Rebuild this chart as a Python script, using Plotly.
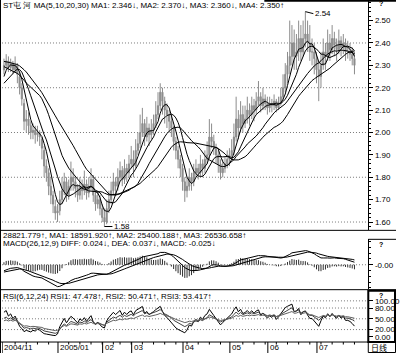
import plotly.graph_objects as go
import pandas as pd

# ---------------- data ----------------
# closes before the first visible bar (only used to warm up the indicators)
pre_closes = [2.52, 2.50, 2.53, 2.49, 2.51, 2.47, 2.50, 2.46, 2.48, 2.45,
              2.47, 2.44, 2.46, 2.43, 2.45,
              2.35, 2.38, 2.36, 2.39, 2.36, 2.34, 2.38, 2.35, 2.37, 2.36,
              2.40, 2.42, 2.41, 2.39, 2.38, 2.37, 2.35, 2.34, 2.33, 2.30,
              2.22, 2.20, 2.18, 2.17, 2.18, 2.18, 2.22, 2.26, 2.29]

opens = [2.28, 2.30, 2.32, 2.29, 2.31, 2.28, 2.30, 2.25, 2.20, 2.13,
         2.05, 2.06, 2.03, 2.00, 2.01, 1.99, 2.00, 1.97, 1.92, 1.85,
         1.82, 1.76, 1.72, 1.67, 1.64, 1.65, 1.70, 1.74, 1.78, 1.72,
         1.76, 1.80, 1.78, 1.75, 1.72, 1.76, 1.74, 1.77, 1.73, 1.76,
         1.79, 1.72, 1.68, 1.70, 1.66, 1.62, 1.60, 1.66, 1.70, 1.74,
         1.78, 1.76, 1.80, 1.83, 1.79, 1.84, 1.82, 1.86, 1.88, 1.85,
         1.92, 1.95, 2.00, 2.04, 1.98, 2.02, 1.99, 2.01, 2.04, 2.08,
         2.12, 2.18, 2.14, 2.10, 2.08, 2.05, 2.02, 1.96, 1.92, 1.88,
         1.84, 1.78, 1.74, 1.76, 1.80, 1.78, 1.82, 1.84, 1.82, 1.86,
         1.84, 1.88, 1.90, 1.98, 1.96, 1.93, 1.90, 1.86, 1.82, 1.84,
         1.86, 1.88, 1.90, 1.92, 1.98, 2.06, 2.02, 2.08, 2.04, 2.06,
         2.10, 2.08, 2.12, 2.10, 2.14, 2.16, 2.12, 2.15, 2.13, 2.11,
         2.13, 2.12, 2.14, 2.11, 2.13, 2.16, 2.20, 2.26, 2.30, 2.34,
         2.40, 2.34, 2.36, 2.42, 2.36, 2.42, 2.44, 2.40, 2.36, 2.36,
         2.33, 2.28, 2.25, 2.30, 2.36, 2.34, 2.40, 2.37, 2.42, 2.39,
         2.37, 2.41, 2.38, 2.40, 2.36, 2.36, 2.35, 2.33]
highs = [2.33, 2.35, 2.34, 2.33, 2.32, 2.34, 2.31, 2.27, 2.22, 2.15,
         2.10, 2.09, 2.05, 2.04, 2.03, 2.03, 2.01, 1.98, 1.94, 1.88,
         1.84, 1.80, 1.74, 1.70, 1.68, 1.74, 1.80, 1.82, 1.80, 1.79,
         1.87, 1.84, 1.80, 1.77, 1.80, 1.79, 1.83, 1.79, 1.80, 1.84,
         1.81, 1.74, 1.74, 1.72, 1.68, 1.66, 1.70, 1.74, 1.78, 1.82,
         1.80, 1.84, 1.87, 1.85, 1.88, 1.86, 1.90, 1.94, 1.92, 1.97,
         2.00, 2.08, 2.11, 2.06, 2.07, 2.04, 2.06, 2.08, 2.14, 2.18,
         2.22, 2.20, 2.16, 2.13, 2.10, 2.08, 2.03, 1.98, 1.94, 1.90,
         1.86, 1.80, 1.80, 1.84, 1.82, 1.86, 1.88, 1.86, 1.90, 1.88,
         1.92, 1.96, 2.06, 2.04, 1.99, 1.95, 1.92, 1.88, 1.88, 1.89,
         1.92, 1.93, 1.97, 2.04, 2.16, 2.10, 2.14, 2.12, 2.12, 2.16,
         2.13, 2.16, 2.15, 2.18, 2.23, 2.18, 2.20, 2.17, 2.16, 2.16,
         2.15, 2.17, 2.15, 2.16, 2.20, 2.26, 2.31, 2.36, 2.50, 2.48,
         2.46, 2.44, 2.50, 2.48, 2.50, 2.54, 2.50, 2.48, 2.42, 2.40,
         2.36, 2.32, 2.36, 2.42, 2.40, 2.46, 2.44, 2.48, 2.45, 2.42,
         2.46, 2.43, 2.44, 2.42, 2.41, 2.40, 2.38, 2.36]
lows = [2.26, 2.28, 2.27, 2.27, 2.26, 2.27, 2.22, 2.17, 2.12, 2.01,
        2.00, 1.99, 1.97, 1.97, 1.95, 1.96, 1.94, 1.88, 1.80, 1.78,
        1.72, 1.68, 1.64, 1.61, 1.60, 1.63, 1.68, 1.72, 1.69, 1.70,
        1.74, 1.74, 1.71, 1.69, 1.70, 1.70, 1.72, 1.70, 1.71, 1.74,
        1.69, 1.65, 1.66, 1.63, 1.60, 1.58, 1.59, 1.64, 1.68, 1.72,
        1.72, 1.74, 1.78, 1.76, 1.77, 1.78, 1.80, 1.84, 1.80, 1.84,
        1.90, 1.93, 1.98, 1.94, 1.96, 1.94, 1.97, 1.99, 2.02, 2.06,
        2.10, 2.08, 2.04, 2.02, 2.00, 1.98, 1.92, 1.88, 1.84, 1.80,
        1.74, 1.69, 1.71, 1.74, 1.74, 1.76, 1.80, 1.79, 1.80, 1.80,
        1.82, 1.86, 1.88, 1.93, 1.90, 1.86, 1.82, 1.79, 1.80, 1.82,
        1.84, 1.85, 1.88, 1.90, 1.96, 1.97, 2.00, 2.00, 2.02, 2.04,
        2.03, 2.06, 2.05, 2.08, 2.12, 2.09, 2.10, 2.10, 2.08, 2.09,
        2.09, 2.10, 2.09, 2.10, 2.12, 2.14, 2.18, 2.22, 2.26, 2.30,
        2.28, 2.28, 2.32, 2.32, 2.34, 2.38, 2.36, 2.32, 2.30, 2.26,
        2.22, 2.14, 2.20, 2.28, 2.28, 2.32, 2.32, 2.35, 2.34, 2.32,
        2.35, 2.34, 2.35, 2.32, 2.33, 2.32, 2.30, 2.26]
closes = [2.30, 2.32, 2.29, 2.31, 2.28, 2.30, 2.26, 2.20, 2.15, 2.05,
          2.06, 2.03, 2.00, 2.01, 1.99, 2.00, 1.98, 1.93, 1.85, 1.82,
          1.76, 1.72, 1.68, 1.64, 1.65, 1.70, 1.74, 1.78, 1.72, 1.76,
          1.80, 1.78, 1.75, 1.72, 1.76, 1.74, 1.77, 1.73, 1.76, 1.79,
          1.72, 1.68, 1.70, 1.66, 1.62, 1.60, 1.66, 1.70, 1.74, 1.78,
          1.76, 1.80, 1.83, 1.79, 1.84, 1.82, 1.86, 1.88, 1.85, 1.92,
          1.95, 2.00, 2.04, 1.98, 2.02, 1.99, 2.01, 2.04, 2.08, 2.12,
          2.18, 2.14, 2.10, 2.08, 2.05, 2.02, 1.96, 1.92, 1.88, 1.84,
          1.78, 1.74, 1.76, 1.80, 1.78, 1.82, 1.84, 1.82, 1.86, 1.84,
          1.88, 1.90, 1.98, 1.96, 1.93, 1.90, 1.86, 1.82, 1.84, 1.86,
          1.88, 1.90, 1.92, 1.98, 2.06, 2.02, 2.08, 2.04, 2.06, 2.10,
          2.08, 2.12, 2.10, 2.14, 2.16, 2.12, 2.15, 2.13, 2.11, 2.13,
          2.12, 2.14, 2.11, 2.13, 2.16, 2.20, 2.26, 2.30, 2.34, 2.40,
          2.34, 2.36, 2.42, 2.36, 2.42, 2.44, 2.40, 2.36, 2.36, 2.33,
          2.28, 2.25, 2.30, 2.36, 2.34, 2.40, 2.37, 2.42, 2.39, 2.37,
          2.41, 2.38, 2.40, 2.36, 2.36, 2.35, 2.33, 2.30]

holidays = ["2005-01-03", "2005-02-07", "2005-02-08", "2005-02-09", "2005-02-10",
            "2005-02-11", "2005-02-14", "2005-02-15", "2005-05-02", "2005-05-03",
            "2005-05-04", "2005-05-05", "2005-05-06"]
first_day, last_day = "2004-11-29", "2005-07-25"
month_labels = {"2004-11": "2004/11", "2005-01": "2005/01", "2005-02": "02", "2005-03": "03",
                "2005-04": "04", "2005-05": "05", "2005-06": "06", "2005-07": "07"}

ma_periods = [5, 10, 20, 30]
ma_colors = ["#000000", "#000000", "#000000", "#000000"]

UP, DN = "<b>↑</b>", "<b>↓</b>"
title_txt = f"ST屯 河 MA(5,10,20,30) MA1: 2.346{DN}, MA2: 2.370{DN}, MA3: 2.360{DN}, MA4: 2.350{UP}"
vol_txt = f"28821.779{UP}, MA1: 18591.920{UP}, MA2: 25400.188{UP}, MA3: 26536.658{UP}"
macd_txt = f"MACD(26,12,9) DIFF: 0.024{DN}, DEA: 0.037{DN}, MACD: -0.025{DN}"
rsi_txt = f"RSI(6,12,24) RSI1: 47.478{UP}, RSI2: 50.471{UP}, RSI3: 53.417{UP}"
hi_txt, lo_txt = "2.54", "1.58"

# ---------------- derived series ----------------
n = len(closes)
idx = list(range(n))
npre = len(pre_closes)
full = pd.Series(pre_closes + closes, dtype=float)
mas = [full.rolling(p, min_periods=1).mean().iloc[npre:].tolist() for p in ma_periods]
ema12 = full.ewm(span=12, adjust=False).mean()
ema26 = full.ewm(span=26, adjust=False).mean()
diff = ema12 - ema26
dea = diff.ewm(span=9, adjust=False).mean()
macd = 2 * (diff - dea)
diff_v, dea_v, macd_v = diff.iloc[npre:].tolist(), dea.iloc[npre:].tolist(), macd.iloc[npre:].tolist()
chg = full.diff().fillna(0)
rsis = []
for p in (6, 12, 24):
    up = chg.clip(lower=0).ewm(alpha=1 / p, adjust=False).mean()
    ab = chg.abs().ewm(alpha=1 / p, adjust=False).mean()
    rsis.append((up / ab * 100).fillna(50).iloc[npre:].tolist())

bd = pd.bdate_range(first_day, last_day)
dates = [d for d in bd if d.strftime("%Y-%m-%d") not in holidays]

# ---------------- geometry helpers ----------------
W, H = 400, 354
def py(p):
    return 1 - p / H
def px(p):
    return p / W

FONT = "Liberation Sans, Arial, sans-serif"
FS = 8
DOT = "1px,2px"
GRID = "#7a7a7a"
x_range = [-0.887, 163.19]

fig = go.Figure()

fig.add_trace(go.Candlestick(
    x=idx, open=opens, high=highs, low=lows, close=closes,
    increasing=dict(line=dict(color="#8c8c8c", width=1), fillcolor="#8c8c8c"),
    decreasing=dict(line=dict(color="#8c8c8c", width=1), fillcolor="#8c8c8c"),
    whiskerwidth=0, showlegend=False, hoverinfo="skip", xaxis="x", yaxis="y"))
for m, c in zip(mas, ma_colors):
    fig.add_trace(go.Scatter(x=idx, y=m, mode="lines", line=dict(color=c, width=1),
                             showlegend=False, hoverinfo="skip", xaxis="x", yaxis="y"))

hx, hy = [], []
for i, v in zip(idx, macd_v):
    hx += [i, i, None]
    hy += [0, v, None]
fig.add_trace(go.Scatter(x=hx, y=hy, mode="lines", line=dict(color="#303030", width=1),
                         showlegend=False, hoverinfo="skip", xaxis="x2", yaxis="y2"))
fig.add_trace(go.Scatter(x=idx, y=diff_v, mode="lines", line=dict(color="#000000", width=1),
                         showlegend=False, hoverinfo="skip", xaxis="x2", yaxis="y2"))
fig.add_trace(go.Scatter(x=idx, y=dea_v, mode="lines", line=dict(color="#000000", width=1),
                         showlegend=False, hoverinfo="skip", xaxis="x2", yaxis="y2"))

for r, c in zip(rsis, ["#000000", "#404040", "#606060"]):
    fig.add_trace(go.Scatter(x=idx, y=r, mode="lines", line=dict(color=c, width=1),
                             showlegend=False, hoverinfo="skip", xaxis="x3", yaxis="y3"))

xdom = [px(2), px(372)]
common_x = dict(domain=xdom, range=x_range, showticklabels=False, showgrid=False,
                zeroline=False, showline=False, ticks="", rangeslider=dict(visible=False),
                fixedrange=True)
tickfont = dict(size=FS, family=FONT, color="black")
common_y = dict(side="right", showline=True, linecolor="black", linewidth=1, ticks="outside",
                ticklen=4, tickcolor="black", tickfont=tickfont, showgrid=False, zeroline=False,
                fixedrange=True)

fig.update_layout(
    width=W, height=H, margin=dict(l=0, r=0, t=0, b=0),
    paper_bgcolor="white", plot_bgcolor="white", showlegend=False,
    xaxis=dict(**common_x, anchor="y"),
    xaxis2=dict(**common_x, anchor="y2", matches="x"),
    xaxis3=dict(**common_x, anchor="y3", matches="x"),
    yaxis=dict(**common_y, anchor="x", domain=[py(231), py(0)], range=[1.5628, 2.592],
               dtick=0.1, tick0=0, tickformat=".2f",
               minor=dict(ticks="outside", ticklen=2, dtick=0.02, tickcolor="black")),
    yaxis2=dict(**common_y, anchor="x2", domain=[py(290), py(240)], range=[-0.169, 0.1759],
                tickvals=[0], ticktext=["-0.00"],
                minor=dict(ticks="outside", ticklen=2, dtick=0.04, tickcolor="black")),
    yaxis3=dict(**common_y, anchor="x3", domain=[py(342), py(291)], range=[-11.9, 129.7],
                tickvals=[0, 20, 50, 80, 100], ticktext=["0.00", "20.00", "50.00", "80.00", "100.00"]),
)

shapes = []
def hline_paper(y, x0=0, x1=400, w=1, color="black"):
    shapes.append(dict(type="line", xref="paper", yref="paper", x0=px(x0), x1=px(x1),
                       y0=py(y), y1=py(y), line=dict(color=color, width=w)))
def vline_paper(x, y0, y1, w=1, color="black"):
    shapes.append(dict(type="line", xref="paper", yref="paper", x0=px(x), x1=px(x),
                       y0=py(y0), y1=py(y1), line=dict(color=color, width=w)))

for g in [1.6, 1.8, 2.0, 2.2, 2.4]:
    shapes.append(dict(type="line", xref="x", yref="y", x0=x_range[0], x1=x_range[1], y0=g, y1=g,
                       line=dict(color=GRID, width=1, dash=DOT), layer="below"))
shapes.append(dict(type="line", xref="x2", yref="y2", x0=x_range[0], x1=x_range[1], y0=0, y1=0,
                   line=dict(color=GRID, width=1, dash=DOT), layer="below"))
for g in [20, 50, 80, 100]:
    shapes.append(dict(type="line", xref="x3", yref="y3", x0=x_range[0], x1=x_range[1], y0=g, y1=g,
                       line=dict(color=GRID, width=1, dash=DOT), layer="below"))

hline_paper(231)
hline_paper(290.5)
hline_paper(343)
vline_paper(0.5, 0, 354)
hline_paper(0.8, 267, 400, w=2)
hline_paper(240, 372, 400)
shapes.append(dict(type="rect", xref="paper", yref="paper", x0=px(372), x1=px(399), y0=py(291.5), y1=py(343),
                   line=dict(color="black", width=2)))
shapes.append(dict(type="rect", xref="paper", yref="paper", x0=px(372), x1=px(399.5), y0=py(343), y1=py(353.5),
                   line=dict(color="black", width=1)))

annotations = []
prev_month, prev_week = None, None
for i, d in enumerate(dates):
    mk = d.strftime("%Y-%m")
    wk = d.isocalendar()[1]
    if mk != prev_month and mk in month_labels:
        shapes.append(dict(type="line", xref="x", yref="paper", x0=i - 0.8, x1=i - 0.8,
                           y0=py(343), y1=py(354), line=dict(color="black", width=1)))
        annotations.append(dict(x=i - 0.8, y=py(348.5), xref="x", yref="paper", text=month_labels[mk],
                                showarrow=False, xanchor="left", yanchor="middle", xshift=0,
                                font=dict(size=FS, family=FONT, color="black")))
    elif wk != prev_week:
        shapes.append(dict(type="line", xref="x", yref="paper", x0=i, x1=i,
                           y0=py(343), y1=py(345.5), line=dict(color="black", width=1)))
    prev_month, prev_week = mk, wk

fig.update_layout(shapes=shapes)

def text(x, y, s, size=FS, anchor="left", family=FONT):
    annotations.append(dict(x=px(x), y=py(y), xref="paper", yref="paper", text=s, showarrow=False,
                            xanchor=anchor, yanchor="middle", font=dict(size=size, family=family, color="black")))

text(1, 6, title_txt)
text(1, 236, vol_txt)
text(1, 244.5, macd_txt)
text(1, 297, rsi_txt)
text(373, 348.5, "日线", family="Noto Sans CJK SC")
for yy in (4, 245, 296):
    text(385, yy, "<b>?</b>", size=7, anchor="center")

hi_i = highs.index(max(highs))
lo_i = lows.index(min(lows))
annotations.append(dict(x=hi_i, y=max(highs), xref="x", yref="y", text=hi_txt, showarrow=True,
                        arrowhead=0, arrowwidth=1, arrowcolor="black", ax=8, ay=2, xanchor="left",
                        font=dict(size=FS, family=FONT, color="black")))
annotations.append(dict(x=lo_i, y=min(lows), xref="x", yref="y", text=lo_txt, showarrow=True,
                        arrowhead=0, arrowwidth=1, arrowcolor="black", ax=8, ay=0, xanchor="left",
                        font=dict(size=FS, family=FONT, color="black")))

fig.update_layout(annotations=annotations)
fig.write_html("out.html")
